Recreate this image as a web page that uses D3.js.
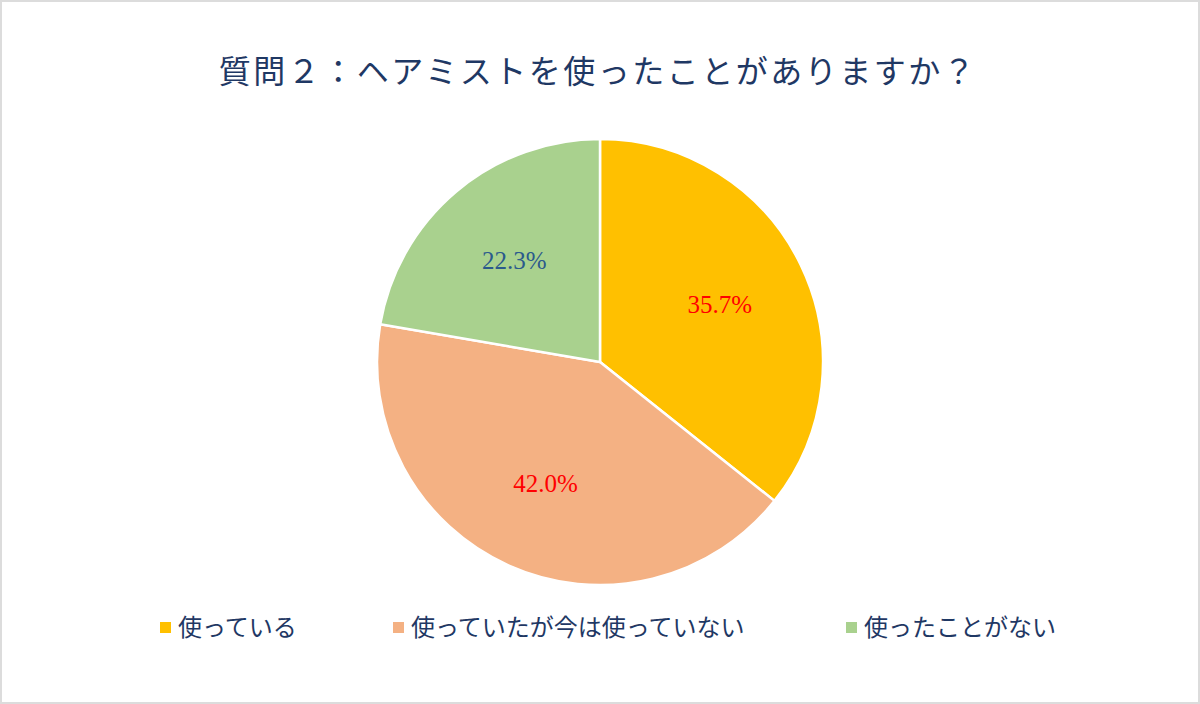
<!DOCTYPE html>
<html><head><meta charset="utf-8">
<script src="https://cdn.jsdelivr.net/npm/d3@7"></script>
<style>
html,body{margin:0;padding:0;background:#fff;}
svg{display:block;}
</style></head>
<body>
<svg id="chart" width="1200" height="704"></svg>
<script>
const title = "質問２：ヘアミストを使ったことがありますか？";
const categories = ["使っている", "使っていたが今は使っていない", "使ったことがない"];
const values = [35.7, 42.0, 22.3];
const colors = ["#FFC000", "#F4B183", "#A9D18E"];
const labelColors = ["#FF0000", "#FF0000", "#2B5A8C"];
const legendX = [160, 393, 846];

const svg = d3.select("#chart");
const W = 1200, H = 704;
const font = "'Liberation Serif','Noto Sans CJK JP',serif";

svg.append("rect").attr("x",1).attr("y",1).attr("width",W-2).attr("height",H-2)
  .attr("fill","#fff").attr("stroke","#dcdcdc").attr("stroke-width",2);

svg.append("text").attr("x",598).attr("y",83).attr("text-anchor","middle")
  .attr("font-family",font).attr("font-size",32).attr("fill","#1F3864")
  .attr("letter-spacing",2.5).text(title);

const cx = 600, cy = 362, R = 223;
const g = svg.append("g").attr("transform",`translate(${cx},${cy})`);
const pie = d3.pie().sort(null).value(d=>d)(values);
const arc = d3.arc().innerRadius(0).outerRadius(R);
const labelArc = d3.arc().innerRadius(133).outerRadius(133);

g.selectAll("path").data(pie).join("path")
  .attr("d",arc).attr("fill",(d,i)=>colors[i])
  .attr("stroke","#fff").attr("stroke-width",2.5);

g.selectAll("text.lbl").data(pie).join("text").attr("class","lbl")
  .attr("transform",d=>`translate(${labelArc.centroid(d)})`)
  .attr("text-anchor","middle").attr("dy","0.35em")
  .attr("font-family",font).attr("font-size",25)
  .attr("fill",(d,i)=>labelColors[i])
  .text(d=>d.data.toFixed(1)+"%");

const lg = svg.append("g");
categories.forEach((c,i)=>{
  lg.append("rect").attr("x",legendX[i]).attr("y",622).attr("width",11).attr("height",11)
    .attr("fill",colors[i]);
  lg.append("text").attr("x",legendX[i]+18).attr("y",636)
    .attr("font-family",font).attr("font-size",24).attr("fill","#1F3864")
    .text(c);
});
</script>
</body></html>
